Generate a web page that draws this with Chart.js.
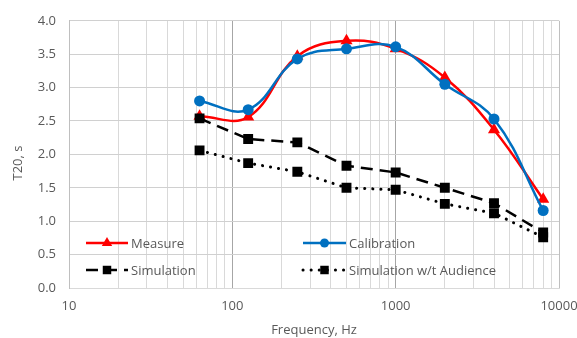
<!DOCTYPE html>
<html>
<head>
<meta charset="utf-8">
<script src="https://cdn.jsdelivr.net/npm/chart.js@4"></script>
<style>
  html, body { margin: 0; padding: 0; background: #fff; }
  #wrap { width: 577px; height: 338px; }
</style>
</head>
<body>
<div id="wrap"><canvas id="t20Chart" width="577" height="338"></canvas></div>
<script>
// Data
const frequencies = [63, 125, 250, 500, 1000, 2000, 4000, 8000];
const measure = [2.57, 2.56, 3.47, 3.70, 3.58, 3.15, 2.37, 1.33];
const calibration = [2.80, 2.67, 3.43, 3.58, 3.61, 3.05, 2.53, 1.16];
const simulation = [2.54, 2.23, 2.18, 1.83, 1.73, 1.50, 1.27, 0.83];
const simulationNoAudience = [2.06, 1.87, 1.74, 1.50, 1.47, 1.26, 1.12, 0.76];
const seriesLabels = ['Measure', 'Calibration', 'Simulation', 'Simulation w/t Audience'];
const xTickLabels = [10, 100, 1000, 10000];

const textColor = '#595959';
const fontFamily = '"Open Sans", sans-serif';

function toPoints(values) {
    return frequencies.map(function(f, i) { return { x: f, y: values[i] }; });
}

// Legend inside the plot area (two columns) and the y axis title
const insideLegend = {
    id: 'insideLegend',
    afterDraw: function(chart) {
        const c = chart.ctx;
        const items = [
            { ds: 0, x0: 86, x1: 128, y: 243 },
            { ds: 1, x0: 303, x1: 346, y: 243 },
            { ds: 2, x0: 86, x1: 128, y: 270 },
            { ds: 3, x0: 303, x1: 346, y: 270 }
        ];
        items.forEach(function(it) {
            const ds = chart.data.datasets[it.ds];
            c.save();
            c.strokeStyle = ds.borderColor;
            c.lineWidth = ds.borderWidth;
            c.lineCap = ds.borderCapStyle || 'butt';
            c.setLineDash(ds.borderDash || []);
            c.beginPath();
            c.moveTo(it.x0, it.y);
            c.lineTo(it.x1, it.y);
            c.stroke();
            c.setLineDash([]);
            c.fillStyle = ds.backgroundColor;
            c.strokeStyle = ds.backgroundColor;
            Chart.helpers.drawPoint(c, {
                pointStyle: ds.pointStyle,
                radius: ds.pointRadius - 1,
                borderWidth: 0,
                rotation: 0
            }, (it.x0 + it.x1) / 2, it.y);
            c.fillStyle = textColor;
            c.font = '13px ' + fontFamily;
            c.textBaseline = 'middle';
            c.textAlign = 'left';
            c.fillText(ds.label, it.x1 + 3, it.y + 1);
            c.restore();
        });

        // y axis title, a little below the middle like the original
        c.save();
        c.translate(18, 163);
        c.rotate(-Math.PI / 2);
        c.fillStyle = textColor;
        c.font = '13px ' + fontFamily;
        c.textAlign = 'center';
        c.textBaseline = 'middle';
        c.fillText('T20, s', 0, 0);
        c.restore();
    }
};

const ctx = document.getElementById('t20Chart').getContext('2d');
const t20Chart = new Chart(ctx, {
    type: 'line',
    data: {
        datasets: [{
            label: seriesLabels[0],
            data: toPoints(measure),
            borderColor: '#FF0000',
            backgroundColor: '#FF0000',
            borderWidth: 2.5,
            pointStyle: 'triangle',
            pointRadius: 7,
            pointBorderWidth: 0,
            tension: 0.4,
            order: 4
        }, {
            label: seriesLabels[1],
            data: toPoints(calibration),
            borderColor: '#0070C0',
            backgroundColor: '#0070C0',
            borderWidth: 2.5,
            pointStyle: 'circle',
            pointRadius: 5.5,
            pointBorderWidth: 0,
            tension: 0.4,
            order: 3
        }, {
            label: seriesLabels[2],
            data: toPoints(simulation),
            borderColor: '#000000',
            backgroundColor: '#000000',
            borderWidth: 2.5,
            borderDash: [12, 7],
            pointStyle: 'rect',
            pointRadius: 7,
            pointBorderWidth: 0,
            tension: 0,
            order: 2
        }, {
            label: seriesLabels[3],
            data: toPoints(simulationNoAudience),
            borderColor: '#000000',
            backgroundColor: '#000000',
            borderWidth: 3,
            borderDash: [0.1, 8],
            borderCapStyle: 'round',
            pointStyle: 'rect',
            pointRadius: 7,
            pointBorderWidth: 0,
            tension: 0,
            order: 1
        }]
    },
    options: {
        responsive: false,
        animation: false,
        layout: { padding: { top: 17, right: 18, bottom: 0, left: 0 } },
        plugins: {
            legend: { display: false },
            tooltip: { enabled: false }
        },
        scales: {
            x: {
                type: 'logarithmic',
                min: 10,
                max: 10000,
                afterBuildTicks: function(scale) {
                    const ticks = [];
                    for (let e = 1; e < 4; e++) {
                        for (let s = 1; s < 10; s++) {
                            ticks.push({ value: s * Math.pow(10, e) });
                        }
                    }
                    ticks.push({ value: 10000 });
                    scale.ticks = ticks;
                },
                afterFit: function(scale) {
                    scale.height = 50;
                    // let "10000" run to the canvas edge like the original
                    scale.paddingRight = 0;
                    scale.paddingLeft = 0;
                },
                ticks: {
                    autoSkip: false,
                    maxRotation: 0,
                    padding: 10,
                    color: textColor,
                    font: { size: 13, family: fontFamily },
                    callback: function(value) {
                        return xTickLabels.indexOf(value) >= 0 ? String(value) : '';
                    }
                },
                grid: {
                    drawTicks: false,
                    color: function(c) {
                        const v = c.tick ? c.tick.value : 0;
                        if (v === 100 || v === 1000) return '#A6A6A6';
                        if (v === 10000) return '#BFBFBF';
                        return '#D9D9D9';
                    }
                },
                border: { color: '#D9D9D9' },
                title: {
                    display: true,
                    text: 'Frequency, Hz',
                    color: textColor,
                    font: { size: 13, family: fontFamily },
                    padding: { top: 1, bottom: 0 }
                }
            },
            y: {
                min: 0,
                max: 4,
                afterFit: function(scale) { scale.width = 69; },
                ticks: {
                    stepSize: 0.5,
                    padding: 13,
                    color: textColor,
                    font: { size: 13, family: fontFamily },
                    callback: function(value) { return value.toFixed(1); }
                },
                grid: { drawTicks: false, color: '#D0D0D0' },
                border: { color: '#BFBFBF' }
            }
        }
    },
    plugins: [insideLegend]
});
</script>
</body>
</html>
